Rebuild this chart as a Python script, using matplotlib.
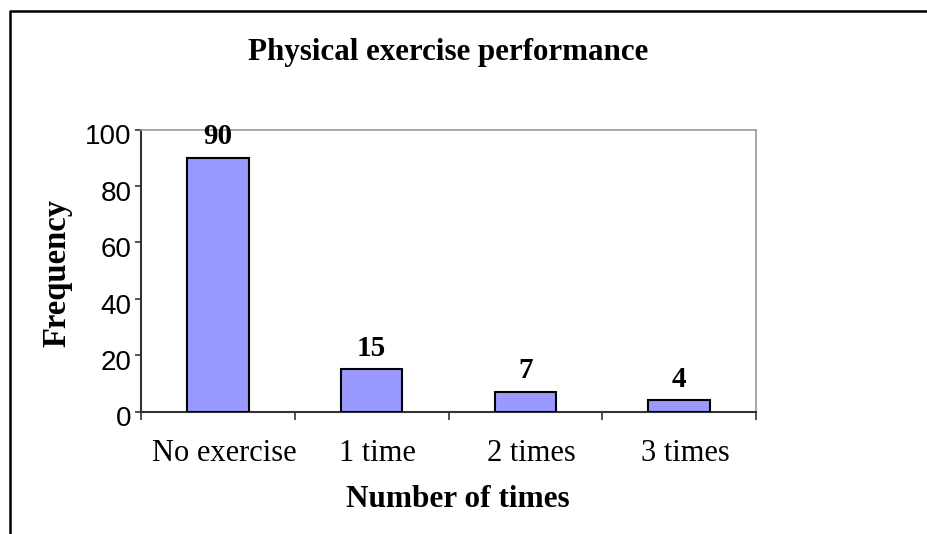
import matplotlib.pyplot as plt
from matplotlib.lines import Line2D
from matplotlib.transforms import ScaledTranslation

# data
categories = ["No exercise", "1 time", "2 times", "3 times"]
frequency = [90, 15, 7, 4]
y_ticks = [0, 20, 40, 60, 80, 100]

W, H = 927, 534
fig = plt.figure(figsize=(W / 100, H / 100), dpi=100)

# plot area in pixels
left, right, top, bottom = 141, 756, 129.5, 411.5
ax = fig.add_axes([left / W, 1 - bottom / H, (right - left) / W, (bottom - top) / H])

x = list(range(len(categories)))
ax.bar(x, frequency, width=0.40, color="#9999FF", edgecolor="black", linewidth=1.5, zorder=3)

for xi, v in zip(x, frequency):
    ax.annotate(str(v), (xi, v), xytext=(0, 9.7), textcoords="offset points",
                ha="center", va="baseline", fontsize=21, fontweight="bold",
                family="Liberation Serif", zorder=4)

ax.set_xlim(-0.5, len(categories) - 0.5)
ax.set_ylim(0, 100)

# y axis
ax.set_yticks(y_ticks)
ax.set_yticklabels([str(t) for t in y_ticks], family="Liberation Sans", fontsize=20)
ax.tick_params(axis="y", direction="out", length=4.3, width=1.2, color="#333333", pad=2.5)
shift_down = ScaledTranslation(0, -0.05, fig.dpi_scale_trans)
for lab in ax.get_yticklabels():
    lab.set_transform(lab.get_transform() + shift_down)

# x axis: ticks between categories, labels at centres
ax.set_xticks([i - 0.5 for i in range(len(categories) + 1)])
ax.set_xticklabels([])
ax.set_xticks(x, minor=True)
ax.set_xticklabels(categories, minor=True, family="Liberation Serif", fontsize=22)
ax.tick_params(axis="x", which="major", direction="out", length=6, width=1.2, color="#333333")
ax.tick_params(axis="x", which="minor", length=0, pad=20)
shift_right = ScaledTranslation(0.06, 0, fig.dpi_scale_trans)
for lab in ax.get_xticklabels(minor=True):
    lab.set_transform(lab.get_transform() + shift_right)

for s in ["left", "bottom"]:
    ax.spines[s].set_color("#333333")
    ax.spines[s].set_linewidth(1.5)
for s in ["top", "right"]:
    ax.spines[s].set_color("#999999")
    ax.spines[s].set_linewidth(1.2)

# titles
fig.text(448.5 / W, 1 - 60 / H, "Physical exercise performance", ha="center", va="baseline",
         fontsize=22.3, fontweight="bold", family="Liberation Serif")
fig.text(457.5 / W, 1 - 507 / H, "Number of times", ha="center", va="baseline",
         fontsize=22.5, fontweight="bold", family="Liberation Serif")
fig.text(65 / W, 1 - 272.5 / H, "Frequency", rotation=90, rotation_mode="anchor",
         ha="center", va="baseline", fontsize=23.5, fontweight="bold", family="Liberation Serif")

# outer border (top and left edges visible)
fig.add_artist(Line2D([10 / W, 10 / W, 1], [0, 1 - 11 / H, 1 - 11 / H],
                      transform=fig.transFigure, color="black", linewidth=1.8))

fig.savefig("out.png", dpi=100)
